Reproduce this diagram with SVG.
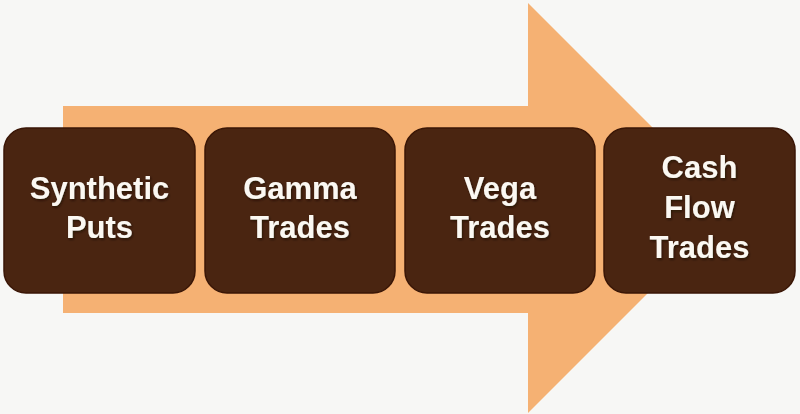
<svg xmlns="http://www.w3.org/2000/svg" width="800" height="414" viewBox="0 0 800 414">
  <defs>
    <style>
      .box { fill: #4a2511; stroke: #3a1606; stroke-width: 1.5; }
      .lbl { font-family: "Liberation Sans", Arial, sans-serif; font-weight: bold; font-size: 31px; fill: #fbf8f2; text-anchor: middle; }
    </style>
    <filter id="ts" x="-10%" y="-20%" width="120%" height="140%">
      <feDropShadow dx="1" dy="1.5" stdDeviation="1" flood-color="#1a0800" flood-opacity="0.7"/>
    </filter>
  </defs>
  <rect width="800" height="414" fill="#f7f7f5"/>
  <g id="arrow">
    <polygon points="63,106 528,106 528,3 733,208 528,413 528,313 63,313" fill="#f5b173"/>
  </g>
  <g id="connectors"></g>
  <g id="node1">
    <rect class="box" x="4" y="128" width="191" height="165" rx="22"/>
    <text class="lbl" filter="url(#ts)"><tspan x="99.5" y="199">Synthetic</tspan><tspan x="99.5" y="238">Puts</tspan></text>
  </g>
  <g id="node2">
    <rect class="box" x="205" y="128" width="190" height="165" rx="22"/>
    <text class="lbl" filter="url(#ts)"><tspan x="300" y="199">Gamma</tspan><tspan x="300" y="238">Trades</tspan></text>
  </g>
  <g id="node3">
    <rect class="box" x="405" y="128" width="190" height="165" rx="22"/>
    <text class="lbl" filter="url(#ts)"><tspan x="500" y="199">Vega</tspan><tspan x="500" y="238">Trades</tspan></text>
  </g>
  <g id="node4">
    <rect class="box" x="604" y="128" width="191" height="165" rx="22"/>
    <text class="lbl" filter="url(#ts)"><tspan x="699.5" y="178">Cash</tspan><tspan x="699.5" y="218">Flow</tspan><tspan x="699.5" y="258">Trades</tspan></text>
  </g>
</svg>
